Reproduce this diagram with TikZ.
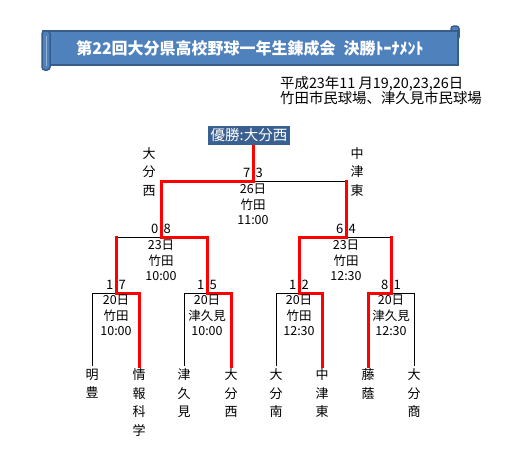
\documentclass[tikz,border=0pt]{standalone}
\usepackage{fontspec}
\newfontfamily\jpfont{Noto Sans CJK JP}
\usepackage{tikz}
\usetikzlibrary{positioning}
\usepackage{xcolor}
\definecolor{bannerblue}{HTML}{4F81BD}
\definecolor{bannerline}{HTML}{385D8A}
\definecolor{champblue}{HTML}{3A6091}

\begin{document}
\begin{tikzpicture}[x=1pt,y=-1pt,font=\jpfont,
  win/.style={red,line width=3pt,line cap=rect},
  lose/.style={black,line width=0.8pt},
  team/.style={anchor=north,align=center,inner sep=0pt,outer sep=3pt,font=\jpfont\fontsize{13}{18.5}\selectfont},
  score/.style={inner xsep=1pt,inner ysep=3pt,font=\jpfont\fontsize{13}{13}\selectfont},
  info/.style={anchor=north,align=center,inner sep=0pt,font=\jpfont\fontsize{12.5}{15.5}\selectfont}]
\useasboundingbox (0,0) rectangle (507,458);
\fill[white] (0,0) rectangle (507,458);
\filldraw[fill=bannerblue,draw=bannerline,line width=1.5pt,rounded corners=3pt] (451,26) rectangle (459,40);
\filldraw[fill=bannerblue,draw=bannerline,line width=1.5pt] (43,31) rectangle (458,65);
\filldraw[fill=bannerblue,draw=bannerline,line width=1.5pt,rounded corners=3pt] (42,31) rectangle (50,70);
\draw[bannerblue!60!white,line width=1pt] (46,36) -- (46,66);
\node[text=white,font=\jpfont\bfseries\fontsize{16}{16}\selectfont] (title) at (250,48) {第22回大分県高校野球一年生錬成会\hspace{0.5em}決勝ﾄｰﾅﾒﾝﾄ};
\node[anchor=north west,align=left,inner sep=0pt,font=\jpfont\fontsize{14.4}{15}\selectfont] (date) at (280,76) {平成23年11 月19,20,23,26日\\竹田市民球場、津久見市民球場};
\node[fill=champblue,text=white,inner xsep=3pt,inner ysep=0pt,minimum height=19pt,font=\jpfont\fontsize{14.5}{14.5}\selectfont] (champ) at (249,135.5) {優勝:大分西};
\coordinate (fin) at (253,181);
\coordinate (sfl) at (161,237);
\coordinate (sfr) at (346,237);
\coordinate (r1a) at (116,293);
\coordinate (r1b) at (207,293);
\coordinate (r1c) at (299,293);
\coordinate (r1d) at (391,293);
\node[team] (meiho) at (92,366) {明\\豊};
\node[team] (joho) at (139,366) {情\\報\\科\\学};
\node[team] (tsukumi) at (184,366) {津\\久\\見};
\node[team] (oitanishi) at (231,366) {大\\分\\西};
\node[team] (oitaminami) at (276,366) {大\\分\\南};
\node[team] (nakatsuhigashi) at (322,366) {中\\津\\東};
\node[team] (toin) at (368,366) {藤\\蔭};
\node[team] (oitasho) at (414,366) {大\\分\\商};
\node[team,anchor=center] (finl) at (149,172) {大\\分\\西};
\node[team,anchor=center] (finr) at (357,172) {中\\津\\東};
\draw[lose] (meiho.north) |- (r1a);
\draw[lose] (tsukumi.north) |- (r1b);
\draw[lose] (oitaminami.north) |- (r1c);
\draw[lose] (oitasho.north) |- (r1d);
\draw[lose] (r1a |- sfl) -- (sfl);
\draw[lose] (r1d |- sfr) -- (sfr);
\draw[lose] (sfr |- fin) -- (fin);
\draw[win] (joho.north) |- (r1a);
\draw[win] (oitanishi.north) |- (r1b);
\draw[win] (nakatsuhigashi.north) |- (r1c);
\draw[win] (toin.north) |- (r1d);
\draw[win] (r1a) -- (r1a |- sfl);
\draw[win] (r1b) |- (sfl);
\draw[win] (r1c) |- (sfr);
\draw[win] (r1d) -- (r1d |- sfr);
\draw[win] (sfl) |- (fin);
\draw[win] (sfr) -- (sfr |- fin);
\draw[win,line cap=butt] (fin) -- (fin |- champ.south);
\node[score,anchor=south east] (fin-l) at ([xshift=-1.5pt]fin) {7};
\node[score,anchor=south west] (fin-r) at ([xshift=1.5pt]fin) {3};
\node[score,anchor=south east] (sfl-l) at ([xshift=-1.5pt]sfl) {0};
\node[score,anchor=south west] (sfl-r) at ([xshift=1.5pt]sfl) {8};
\node[score,anchor=south east] (sfr-l) at ([xshift=-1.5pt]sfr) {6};
\node[score,anchor=south west] (sfr-r) at ([xshift=1.5pt]sfr) {4};
\node[score,anchor=south east] (r1a-l) at ([xshift=-1.5pt]r1a) {1};
\node[score,anchor=south west] (r1a-r) at ([xshift=1.5pt]r1a) {7};
\node[score,anchor=south east] (r1b-l) at ([xshift=-1.5pt]r1b) {1};
\node[score,anchor=south west] (r1b-r) at ([xshift=1.5pt]r1b) {5};
\node[score,anchor=south east] (r1c-l) at ([xshift=-1.5pt]r1c) {1};
\node[score,anchor=south west] (r1c-r) at ([xshift=1.5pt]r1c) {2};
\node[score,anchor=south east] (r1d-l) at ([xshift=-1.5pt]r1d) {8};
\node[score,anchor=south west] (r1d-r) at ([xshift=1.5pt]r1d) {1};
\node[info] (fin-info) at ([yshift=-3pt]fin) {26日\\竹田\\11:00};
\node[info] (sfl-info) at ([yshift=-3pt]sfl) {23日\\竹田\\10:00};
\node[info] (sfr-info) at ([yshift=-3pt]sfr) {23日\\竹田\\12:30};
\node[info] (r1a-info) at ([yshift=-2pt]r1a) {20日\\竹田\\10:00};
\node[info] (r1b-info) at ([yshift=-2pt]r1b) {20日\\津久見\\10:00};
\node[info] (r1c-info) at ([yshift=-2pt]r1c) {20日\\竹田\\12:30};
\node[info] (r1d-info) at ([yshift=-2pt]r1d) {20日\\津久見\\12:30};
\end{tikzpicture}
\end{document}
